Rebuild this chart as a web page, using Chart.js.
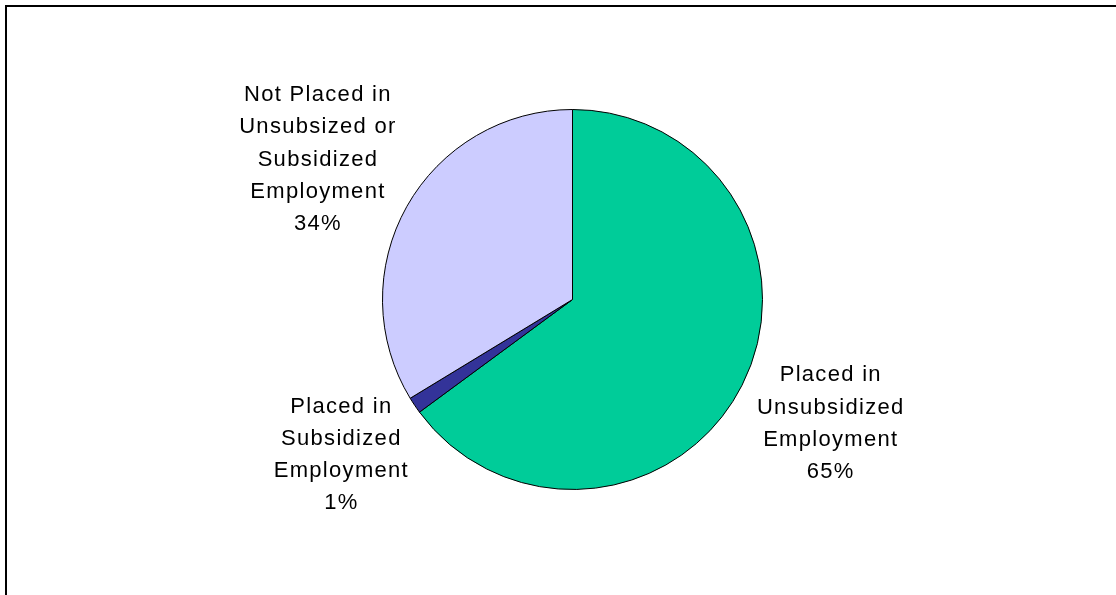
<!DOCTYPE html>
<html>
<head>
<meta charset="utf-8">
<script src="https://cdn.jsdelivr.net/npm/chart.js@4"></script>
<style>
  html, body { margin: 0; padding: 0; background: #fff; }
  canvas { display: block; }
</style>
</head>
<body>
<canvas id="myChart" width="1116" height="595"></canvas>
<script>
// slices, clockwise from 12 o'clock
const labels = [
    ['Placed in', 'Unsubsidized', 'Employment'],
    ['Placed in', 'Subsidized', 'Employment'],
    ['Not Placed in', 'Unsubsized or', 'Subsidized', 'Employment']
]
const shares = [64.9, 1.4, 33.7]
const pctLabels = ['65%', '1%', '34%']
const colors = ['#00CC99', '#333399', '#CCCCFF']

// where each label block sits: distance from the pie centre, small turn (deg)
const labelDist = [286, 279, 291]
const labelTurn = [-1.1, 0, -0.6]

const ctx = document.getElementById('myChart');

const frame = {
    id: 'frame',
    beforeDraw(chart) {
        const c = chart.ctx
        c.save()
        c.fillStyle = '#fff'
        c.fillRect(0, 0, chart.width, chart.height)
        c.strokeStyle = '#000'
        c.lineWidth = 2
        c.beginPath()
        c.moveTo(6, chart.height)
        c.lineTo(6, 6)
        c.lineTo(chart.width, 6)
        c.stroke()
        c.restore()
    }
}

const sliceLabels = {
    id: 'sliceLabels',
    afterDraw(chart) {
        const c = chart.ctx
        const arcs = chart.getDatasetMeta(0).data
        c.save()
        c.font = '22px "Liberation Sans", Arial, sans-serif'
        c.letterSpacing = '1.3px'
        c.fillStyle = '#000'
        c.textAlign = 'center'
        c.textBaseline = 'middle'
        const lineH = 32.2
        arcs.forEach((arc, i) => {
            const mid = (arc.startAngle + arc.endAngle) / 2 + labelTurn[i] * Math.PI / 180
            const cx = arc.x + Math.cos(mid) * labelDist[i]
            const cy = arc.y + Math.sin(mid) * labelDist[i]
            const lines = labels[i].concat([pctLabels[i]])
            const top = cy - (lines.length - 1) * lineH / 2
            lines.forEach((t, k) => {
                c.fillText(t, cx + 0.6, top + k * lineH)
            })
        })
        c.restore()
    }
}

new Chart(ctx, {
    type: 'pie',
    data: {
        labels: labels.map(l => l.join(' ')),
        datasets: [{
            data: shares,
            backgroundColor: colors,
            borderColor: '#000',
            borderWidth: 1
        }]
    },
    options: {
        responsive: false,
        animation: false,
        layout: {
            padding: { top: 109, bottom: 105, left: 382, right: 353 }
        },
        plugins: {
            legend: { display: false },
            tooltip: { enabled: false }
        }
    },
    plugins: [frame, sliceLabels]
});
</script>
</body>
</html>
